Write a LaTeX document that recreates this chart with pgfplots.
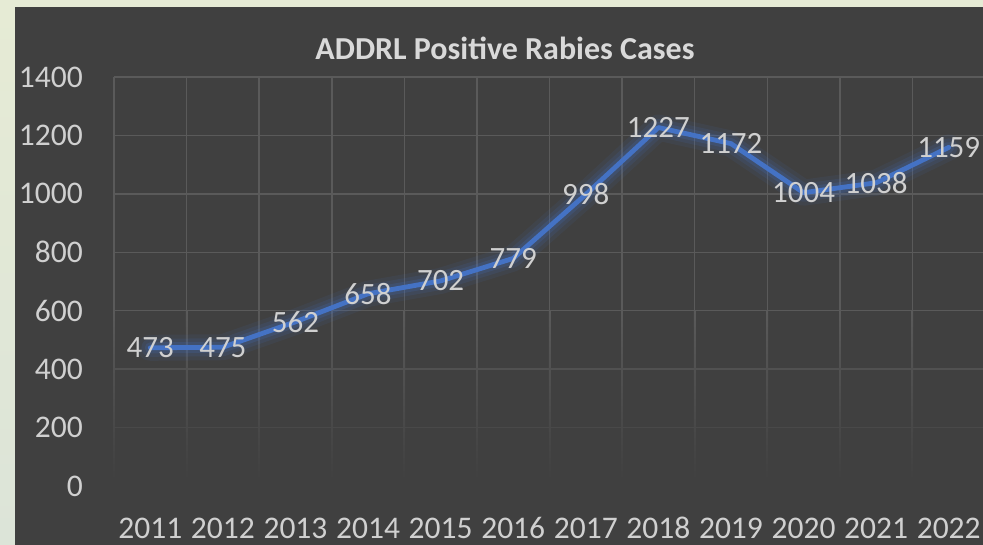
\documentclass[border=0pt]{standalone}
\usepackage{fontspec}
\setmainfont{Carlito}
\usepackage{pgfplots}
\usepackage{pgfplotstable}
\pgfplotsset{compat=1.18}
\definecolor{outerA}{HTML}{E6EBD5}
\definecolor{outerB}{HTML}{DCE4D8}
\definecolor{darkbg}{HTML}{404040}
\definecolor{gridc}{HTML}{5A5A5A}
\definecolor{txt}{HTML}{D0D0D0}
\definecolor{titlec}{HTML}{D9D9D9}
\definecolor{lineblue}{HTML}{4472C4}

\pgfplotstableread{
year val
2011 473
2012 475
2013 562
2014 658
2015 702
2016 779
2017 998
2018 1227
2019 1172
2020 1004
2021 1038
2022 1159
}\datatable

\begin{document}
\begin{tikzpicture}
\path[use as bounding box] (0,0) rectangle (983bp,545bp);
\clip (0,0) rectangle (983bp,545bp);
\shade[top color=outerA, bottom color=outerB] (0,0) rectangle (983bp,545bp);
\fill[darkbg] (15bp,0) rectangle (983bp,538bp);
\node[font=\fontsize{32bp}{38bp}\selectfont\bfseries, text=titlec, inner sep=0pt] at (505bp,497bp) {ADDRL Positive Rabies Cases};
\begin{axis}[
  at={(114bp,59bp)}, anchor=south west, scale only axis,
  width=871bp, height=409bp,
  xmin=2010.5, xmax=2022.5, ymin=0, ymax=1400,
  axis line style={draw=none}, major tick length=0pt,
  xtick={2011,2012,2013,2014,2015,2016,2017,2018,2019,2020,2021,2022},
  xticklabels={2011,2012,2013,2014,2015,2016,2017,2018,2019,2020,2021,2022},
  ytick={0,200,400,600,800,1000,1200,1400},
  /pgf/number format/assume math mode=true,
  /pgf/number format/1000 sep={},
  ticklabel style={font=\fontsize{31.5bp}{38bp}\selectfont, text=txt, inner sep=0pt},
  yticklabel style={anchor=east, xshift=-31bp},
  xticklabel style={anchor=center, yshift=-42bp},
  clip=false,
]
\pgfplotsinvokeforeach{2010.5,2011.5,2012.5,2013.5,2014.5,2015.5,2016.5,2017.5,2018.5,2019.5,2020.5,2021.5,2022.5}{
  \draw[gridc, line width=1.5bp] (axis cs:#1,600) -- (axis cs:#1,1400);
  \shade[top color=gridc, bottom color=darkbg] ([xshift=-0.75bp]axis cs:#1,20) rectangle ([xshift=0.75bp]axis cs:#1,600);
}
\pgfplotsinvokeforeach{600,800,1000,1200,1400}{
  \draw[gridc, line width=1.5bp] (axis cs:2010.5,#1) -- (axis cs:2022.5,#1);
}
\draw[gridc!67!darkbg, line width=1.5bp] (axis cs:2010.5,400) -- (axis cs:2022.5,400);
\draw[gridc!33!darkbg, line width=1.5bp] (axis cs:2010.5,200) -- (axis cs:2022.5,200);

\addplot[lineblue, opacity=0.09, line width=26bp, line join=round, line cap=round] table[x=year, y=val] {\datatable};
\addplot[lineblue, opacity=0.13, line width=18bp, line join=round, line cap=round] table[x=year, y=val] {\datatable};
\addplot[lineblue, opacity=0.18, line width=11bp, line join=round, line cap=round] table[x=year, y=val] {\datatable};
\addplot[lineblue, line width=4.8bp, line join=round, line cap=round,
  nodes near coords, point meta=explicit symbolic,
  every node near coord/.append style={anchor=center, text=txt, inner sep=0pt, font=\fontsize{31bp}{38bp}\selectfont}]
  table[x=year, y=val, meta=val] {\datatable};
\end{axis}
\end{tikzpicture}
\end{document}
